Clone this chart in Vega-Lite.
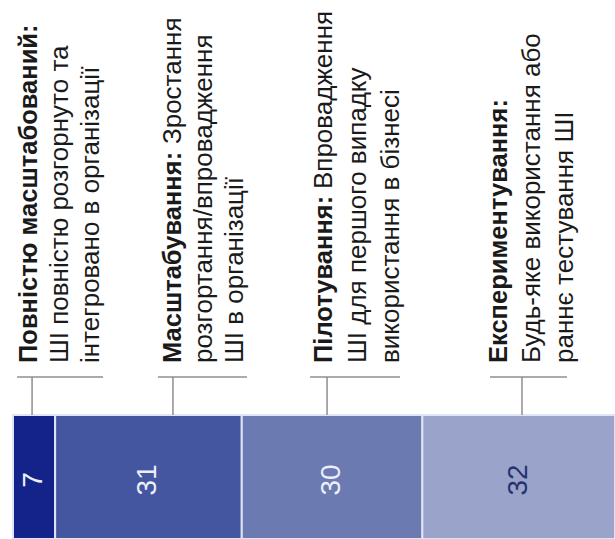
{
  "$schema": "https://vega.github.io/schema/vega-lite/v6.json",
  "width": 602,
  "height": 539,
  "autosize": "none",
  "padding": {"left": 13, "top": 0, "right": 0, "bottom": 0},
  "background": "white",
  "config": {
    "view": {"stroke": null},
    "font": "Liberation Sans, Arial, sans-serif",
    "text": {"font": "Liberation Sans, Arial, sans-serif"}
  },
  "data": {
    "values": [
      {"order": 1, "stage": "Повністю масштабований", "value": 7, "title": "Повністю масштабований:", "cont": "", "body": ["ШІ повністю розгорнуто та", "інтегровано в організації"]},
      {"order": 2, "stage": "Масштабування", "value": 31, "title": "Масштабування:", "cont": "Зростання", "body": ["розгортання/впровадження", "ШІ в організації"]},
      {"order": 3, "stage": "Пілотування", "value": 30, "title": "Пілотування:", "cont": "Впровадження", "body": ["ШІ для першого випадку", "використання в бізнесі"]},
      {"order": 4, "stage": "Експериментування", "value": 32, "title": "Експериментування:", "cont": "", "body": ["Будь-яке використання або", "раннє тестування ШІ"]}
    ]
  },
  "transform": [
    {"stack": "value", "groupby": [], "sort": [{"field": "order", "order": "ascending"}], "as": ["s0", "s1"]},
    {"calculate": "(datum.s0 + datum.s1) / 2", "as": "mid"}
  ],
  "layer": [
    {
      "mark": {"type": "bar", "stroke": "#dfe4f6", "strokeWidth": 2},
      "encoding": {
        "x": {"field": "s0", "type": "quantitative", "scale": {"domain": [0, 100], "nice": false, "zero": false}, "axis": null},
        "x2": {"field": "s1"},
        "y": {"datum": 0, "type": "quantitative", "scale": {"domain": [0, 100], "nice": false}, "axis": null},
        "y2": {"datum": 23},
        "fill": {"field": "stage", "type": "nominal", "legend": null,
          "scale": {"domain": ["Повністю масштабований", "Масштабування", "Пілотування", "Експериментування"], "range": ["#13238a", "#4456a0", "#6b7ab1", "#9aa3c9"]}}
      }
    },
    {
      "mark": {"type": "text", "angle": 270, "align": "center", "baseline": "middle", "fontSize": 28},
      "encoding": {
        "x": {"field": "mid", "type": "quantitative", "axis": null},
        "y": {"datum": 10.95, "type": "quantitative", "axis": null},
        "text": {"field": "value", "type": "quantitative"},
        "color": {"condition": {"test": "datum.order == 4", "value": "#27316d"}, "value": "#eceffa"}
      }
    },
    {
      "transform": [{"filter": "datum.order == 1"}],
      "layer": [
        {"mark": {"type": "rule", "color": "#8f8f8f", "strokeWidth": 1.5, "xOffset": -2},
         "encoding": {"x": {"field": "mid", "type": "quantitative", "axis": null}, "y": {"datum": 30.06, "type": "quantitative", "axis": null}, "y2": {"datum": 23}}},
        {"mark": {"type": "rule", "color": "#8f8f8f", "strokeWidth": 1.5, "xOffset": -17, "x2Offset": 69},
         "encoding": {"x": {"field": "mid", "type": "quantitative", "axis": null}, "x2": {"field": "mid"}, "y": {"datum": 30.06, "type": "quantitative", "axis": null}}},
        {"mark": {"type": "text", "angle": 270, "align": "left", "baseline": "alphabetic", "fontSize": 25.5, "fontWeight": "bold", "color": "#1a1a1a", "xOffset": 3},
         "encoding": {"x": {"field": "mid", "type": "quantitative", "axis": null}, "y": {"datum": 32.65, "type": "quantitative", "axis": null}, "text": {"field": "title"}}},
        {"mark": {"type": "text", "angle": 270, "align": "left", "baseline": "alphabetic", "fontSize": 26, "lineHeight": 31, "color": "#1a1a1a", "xOffset": 34},
         "encoding": {"x": {"field": "mid", "type": "quantitative", "axis": null}, "y": {"datum": 32.65, "type": "quantitative", "axis": null}, "text": {"field": "body"}}}
      ]
    },
    {
      "transform": [{"filter": "datum.order == 2"}],
      "layer": [
        {"mark": {"type": "rule", "color": "#8f8f8f", "strokeWidth": 1.5, "xOffset": 24.5},
         "encoding": {"x": {"field": "mid", "type": "quantitative", "axis": null}, "y": {"datum": 30.06, "type": "quantitative", "axis": null}, "y2": {"datum": 23}}},
        {"mark": {"type": "rule", "color": "#8f8f8f", "strokeWidth": 1.5, "xOffset": 9.5, "x2Offset": 98.5},
         "encoding": {"x": {"field": "mid", "type": "quantitative", "axis": null}, "x2": {"field": "mid"}, "y": {"datum": 30.06, "type": "quantitative", "axis": null}}},
        {"mark": {"type": "text", "angle": 270, "align": "left", "baseline": "alphabetic", "fontSize": 25.5, "fontWeight": "bold", "color": "#1a1a1a", "xOffset": 32.5},
         "encoding": {"x": {"field": "mid", "type": "quantitative", "axis": null}, "y": {"datum": 32.65, "type": "quantitative", "axis": null}, "text": {"field": "title"}}},
        {"mark": {"type": "text", "angle": 270, "align": "left", "baseline": "alphabetic", "fontSize": 26, "color": "#1a1a1a", "xOffset": 32.5, "yOffset": -219},
         "encoding": {"x": {"field": "mid", "type": "quantitative", "axis": null}, "y": {"datum": 32.65, "type": "quantitative", "axis": null}, "text": {"field": "cont"}}},
        {"mark": {"type": "text", "angle": 270, "align": "left", "baseline": "alphabetic", "fontSize": 26, "lineHeight": 31, "color": "#1a1a1a", "xOffset": 63.5},
         "encoding": {"x": {"field": "mid", "type": "quantitative", "axis": null}, "y": {"datum": 32.65, "type": "quantitative", "axis": null}, "text": {"field": "body"}}}
      ]
    },
    {
      "transform": [{"filter": "datum.order == 3"}],
      "layer": [
        {"mark": {"type": "rule", "color": "#8f8f8f", "strokeWidth": 1.5, "xOffset": -5},
         "encoding": {"x": {"field": "mid", "type": "quantitative", "axis": null}, "y": {"datum": 30.06, "type": "quantitative", "axis": null}, "y2": {"datum": 23}}},
        {"mark": {"type": "rule", "color": "#8f8f8f", "strokeWidth": 1.5, "xOffset": -22, "x2Offset": 68},
         "encoding": {"x": {"field": "mid", "type": "quantitative", "axis": null}, "x2": {"field": "mid"}, "y": {"datum": 30.06, "type": "quantitative", "axis": null}}},
        {"mark": {"type": "text", "angle": 270, "align": "left", "baseline": "alphabetic", "fontSize": 25.5, "fontWeight": "bold", "color": "#1a1a1a", "xOffset": 0},
         "encoding": {"x": {"field": "mid", "type": "quantitative", "axis": null}, "y": {"datum": 32.65, "type": "quantitative", "axis": null}, "text": {"field": "title"}}},
        {"mark": {"type": "text", "angle": 270, "align": "left", "baseline": "alphabetic", "fontSize": 26, "color": "#1a1a1a", "xOffset": 0, "yOffset": -174},
         "encoding": {"x": {"field": "mid", "type": "quantitative", "axis": null}, "y": {"datum": 32.65, "type": "quantitative", "axis": null}, "text": {"field": "cont"}}},
        {"mark": {"type": "text", "angle": 270, "align": "left", "baseline": "alphabetic", "fontSize": 26, "lineHeight": 33, "color": "#1a1a1a", "xOffset": 34},
         "encoding": {"x": {"field": "mid", "type": "quantitative", "axis": null}, "y": {"datum": 32.65, "type": "quantitative", "axis": null}, "text": {"field": "body"}}}
      ]
    },
    {
      "transform": [{"filter": "datum.order == 4"}],
      "layer": [
        {"mark": {"type": "rule", "color": "#8f8f8f", "strokeWidth": 1.5, "xOffset": 3.3},
         "encoding": {"x": {"field": "mid", "type": "quantitative", "axis": null}, "y": {"datum": 30.06, "type": "quantitative", "axis": null}, "y2": {"datum": 23}}},
        {"mark": {"type": "rule", "color": "#8f8f8f", "strokeWidth": 1.5, "xOffset": -28.7, "x2Offset": 48.3},
         "encoding": {"x": {"field": "mid", "type": "quantitative", "axis": null}, "x2": {"field": "mid"}, "y": {"datum": 30.06, "type": "quantitative", "axis": null}}},
        {"mark": {"type": "text", "angle": 270, "align": "left", "baseline": "alphabetic", "fontSize": 25.5, "fontWeight": "bold", "color": "#1a1a1a", "xOffset": -11.7},
         "encoding": {"x": {"field": "mid", "type": "quantitative", "axis": null}, "y": {"datum": 32.65, "type": "quantitative", "axis": null}, "text": {"field": "title"}}},
        {"mark": {"type": "text", "angle": 270, "align": "left", "baseline": "alphabetic", "fontSize": 26, "lineHeight": 33, "color": "#1a1a1a", "xOffset": 21.3},
         "encoding": {"x": {"field": "mid", "type": "quantitative", "axis": null}, "y": {"datum": 32.65, "type": "quantitative", "axis": null}, "text": {"field": "body"}}}
      ]
    }
  ]
}
